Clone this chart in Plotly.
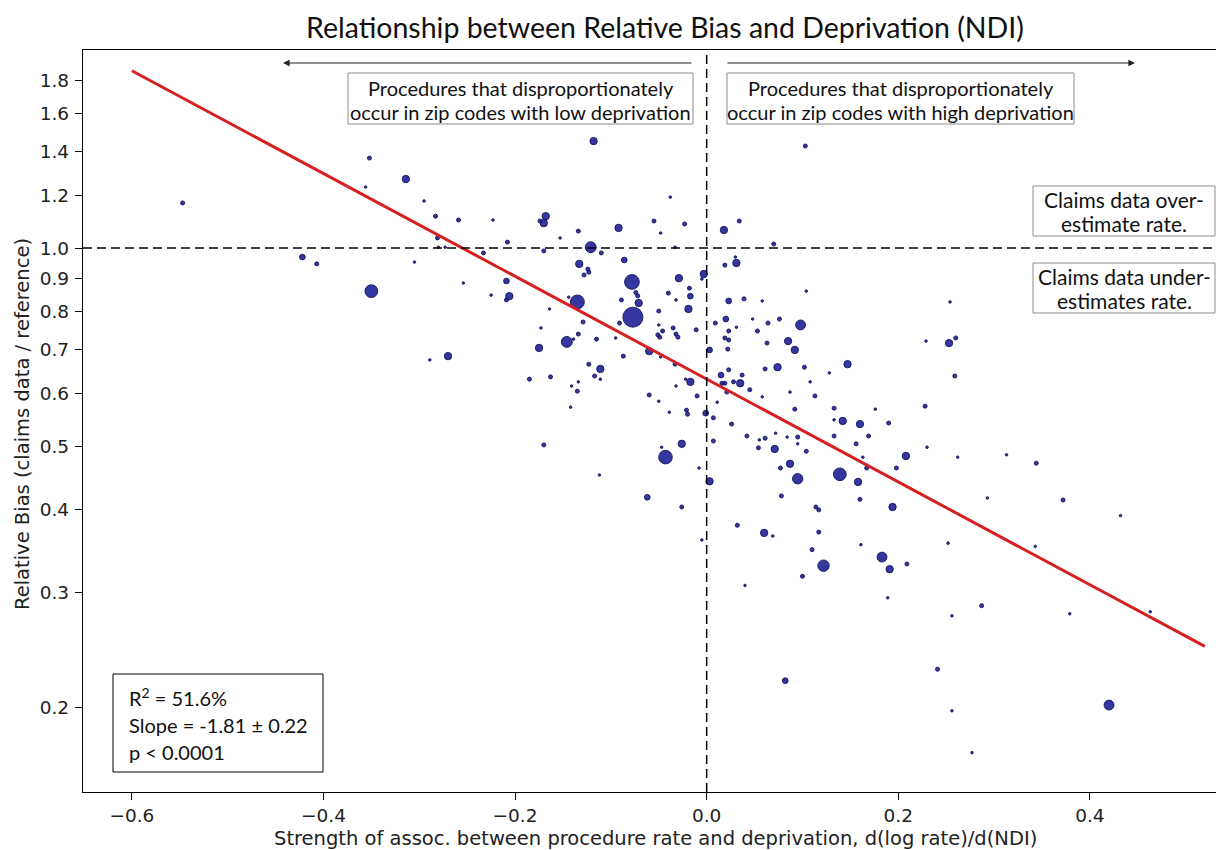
import plotly.graph_objects as go

# ---- data ----
x_assoc = [-0.547,-0.352,-0.356,-0.314,-0.422,-0.407,-0.350,-0.305,-0.295,-0.283,-0.281,-0.280,-0.273,-0.289,-0.270,
           -0.118,0.103,-0.259,-0.223,-0.174,-0.170,-0.168,-0.134,-0.092,-0.055,-0.038,-0.048,-0.023,0.018,0.034,
           -0.208,-0.153,-0.121,-0.170,-0.110,-0.233,-0.033,0.070,-0.086,-0.133,-0.124,-0.123,-0.128,-0.003,-0.005,
           0.030,0.031,0.019,-0.078,-0.029,-0.018,-0.017,-0.040,-0.032,-0.074,-0.072,-0.071,-0.089,-0.135,-0.144,
           -0.019,-0.077,-0.050,0.023,0.039,0.058,0.098,0.020,0.009,0.048,0.064,0.076,0.031,0.023,0.053,
           0.019,0.023,0.085,0.092,0.063,0.022,0.003,-0.050,-0.046,-0.051,-0.049,-0.035,-0.032,-0.030,-0.011,
           -0.091,-0.095,-0.129,-0.134,-0.139,-0.146,-0.115,-0.087,-0.060,-0.048,-0.033,-0.175,-0.164,-0.173,-0.209,
           -0.206,-0.209,-0.225,-0.254,-0.123,-0.111,-0.117,-0.111,-0.185,-0.163,-0.141,-0.135,-0.134,-0.142,-0.060,
           -0.050,-0.017,-0.022,-0.010,-0.032,-0.039,-0.021,-0.020,-0.001,0.007,0.015,0.019,0.016,0.028,0.035,
           0.037,0.023,0.045,0.058,0.061,0.074,0.102,0.108,0.087,0.092,0.113,0.021,0.011,0.026,0.042,
           0.055,0.061,0.054,0.071,0.072,0.084,0.095,0.095,0.104,0.087,0.077,0.095,0.078,-0.026,-0.043,
           -0.047,-0.008,0.007,0.003,-0.170,-0.112,-0.062,-0.026,-0.005,0.032,0.060,0.069,0.040,0.082,0.110,
           0.100,0.117,0.114,0.117,0.133,0.133,0.142,0.160,0.190,0.176,0.228,0.133,0.156,0.169,0.163,
           0.167,0.198,0.208,0.230,0.139,0.158,0.160,0.194,0.122,0.161,0.183,0.191,0.209,0.189,0.262,
           0.313,0.344,0.293,0.372,0.432,0.252,0.343,0.287,0.256,0.379,0.463,0.241,0.420,0.256,0.277,
           0.104,0.254,0.229,0.253,0.260,0.128,0.147,0.259]

rel_bias = [1.171,1.370,1.238,1.273,0.969,0.946,0.860,0.952,1.179,1.118,1.036,1.003,1.003,0.676,0.685,
            1.454,1.429,1.103,1.103,1.099,1.091,1.118,1.061,1.073,1.099,1.195,1.054,1.088,1.065,1.099,
            1.021,1.036,1.003,0.990,0.983,0.983,1.003,1.014,0.959,0.946,0.929,0.919,0.910,0.913,0.897,
            0.969,0.949,0.942,0.888,0.900,0.869,0.845,0.854,0.834,0.856,0.846,0.825,0.834,0.828,0.842,
            0.808,0.785,0.802,0.831,0.837,0.831,0.764,0.780,0.769,0.780,0.769,0.780,0.758,0.748,0.748,
            0.730,0.725,0.722,0.700,0.717,0.702,0.700,0.764,0.748,0.738,0.732,0.756,0.740,0.732,0.751,
            0.769,0.730,0.772,0.740,0.727,0.720,0.727,0.685,0.697,0.683,0.666,0.705,0.808,0.756,0.891,
            0.845,0.834,0.848,0.885,0.666,0.655,0.639,0.632,0.632,0.637,0.617,0.606,0.626,0.573,0.598,
            0.585,0.626,0.632,0.596,0.617,0.563,0.567,0.559,0.561,0.552,0.641,0.623,0.623,0.626,0.623,
            0.641,0.653,0.609,0.594,0.655,0.659,0.659,0.626,0.604,0.569,0.596,0.604,0.583,0.540,0.518,
            0.511,0.514,0.497,0.495,0.523,0.516,0.516,0.504,0.491,0.470,0.463,0.446,0.420,0.504,0.481,
            0.498,0.463,0.509,0.442,0.502,0.452,0.418,0.404,0.360,0.379,0.369,0.365,0.307,0.220,0.348,
            0.317,0.370,0.404,0.400,0.571,0.548,0.546,0.540,0.542,0.569,0.575,0.518,0.504,0.518,0.481,
            0.463,0.463,0.483,0.498,0.453,0.441,0.415,0.404,0.329,0.354,0.339,0.325,0.331,0.294,0.481,
            0.485,0.471,0.417,0.414,0.392,0.356,0.352,0.286,0.276,0.278,0.280,0.229,0.202,0.198,0.171,
            0.860,0.828,0.722,0.717,0.730,0.646,0.666,0.639]

volume = [1.5,1.5,0.6,5,3,1.5,15,0.6,0.6,1.5,1.5,0.6,0.6,0.6,5,
          5,1.5,1.5,0.6,1.5,5,5,1.5,5,1.5,0.6,0.6,1.5,5,1.5,
          1.5,0.6,11,1.5,1.5,1.5,0.6,1.5,3,5,1.5,1.5,1.5,5,0.6,
          0.6,5,1.5,20,5,1.5,3,1.5,0.6,1.5,1.5,5,1.5,18,0.6,
          5,37,1.5,3,1.5,0.6,9,3,1.5,0.6,1.5,1.5,0.6,1.5,1.5,
          1.5,1.5,5,5,1.5,1.5,3,0.6,1.5,1.5,1.5,1.5,1.5,1.5,1.5,
          1.5,0.6,1.5,1.5,0.6,11,1.5,1.5,5,0.6,1.5,5,0.6,0.6,3,
          5,1.5,0.6,0.6,1.5,5,1.5,0.6,1.5,1.5,0.6,1.5,0.6,0.6,1.5,
          0.6,5,0.6,1.5,0.6,0.6,1.5,1.5,3,1.5,3,1.5,1.5,1.5,5,
          1.5,1.5,1.5,0.6,1.5,5,1.5,0.6,0.6,1.5,1.5,1.5,0.6,1.5,1.5,
          0.6,1.5,1.5,5,0.6,0.6,1.5,0.6,1.5,5,1.5,10,1.5,5,17,
          0.6,0.6,1.5,5,1.5,0.6,3,1.5,0.6,1.5,5,0.6,0.6,3,1.5,
          1.5,1.5,1.5,1.5,1.5,0.6,5,5,1.5,0.6,1.5,1.5,1.5,1.5,0.6,
          1.5,1.5,5,0.6,15,5,1.5,5,12,0.6,9,5,1.5,0.6,0.6,
          0.6,1.5,0.6,1.5,0.6,0.6,0.6,1.5,0.6,0.6,0.6,1.5,9,0.6,0.6,
          0.6,0.6,0.6,5,1.5,0.6,5,1.5]

fit_x = [-0.60, 0.52]
fit_y = [1.86, 0.248]

x_tickvals = [-0.6, -0.4, -0.2, 0.0, 0.2, 0.4]
x_ticktext = ["\u22120.6", "\u22120.4", "\u22120.2", "0.0", "0.2", "0.4"]
y_tickvals = [0.2, 0.3, 0.4, 0.5, 0.6, 0.7, 0.8, 0.9, 1.0, 1.2, 1.4, 1.6, 1.8]
y_ticktext = ["0.2", "0.3", "0.4", "0.5", "0.6", "0.7", "0.8", "0.9", "1.0", "1.2", "1.4", "1.6", "1.8"]

title_text = "Relationship between Relative Bias and Deprivation (NDI)"
x_title = "Strength of assoc. between procedure rate and deprivation, d(log rate)/d(NDI)"
y_title = "Relative Bias (claims data / reference)"
low_lines = ["Procedures that disproportionately", "occur in zip codes with low deprivation"]
high_lines = ["Procedures that disproportionately", "occur in zip codes with high deprivation"]
over_lines = ["Claims data over-", "estimate rate."]
under_lines = ["Claims data under-", "estimates rate."]
stats_lines = ["R<sup>2</sup> = 51.6%", "Slope = -1.81 \u00b1 0.22", "p &lt; 0.0001"]

# ---- layout geometry (page pixels; the page body has an 8px margin) ----
OFF = 8
PAGE_W, PAGE_H = 1224, 850
PL, PT, PB = 83, 50, 792          # plot-area left / top / bottom in page pixels
W, H = PAGE_W - OFF, PAGE_H - OFF
ML, MT, MB, MR = PL - OFF, PT - OFF, PAGE_H - PB, 0
PW, PH = W - ML - MR, H - MT - MB


def px(xp):
    return (xp - PL) / PW


def py(yp):
    return (PB - yp) / PH


calibri_like = "Lato, Carlito, Calibri, sans-serif"
dv = "DejaVu Sans, sans-serif"

fig = go.Figure()
fig.add_trace(go.Scatter(
    x=x_assoc, y=rel_bias, mode="markers",
    marker=dict(size=volume, sizemode="area", sizeref=0.184, opacity=1,
                color="rgba(10,10,140,0.82)",
                line=dict(color="#15155e", width=0.9)),
    showlegend=False, hoverinfo="x+y"))
fig.add_trace(go.Scatter(
    x=fit_x, y=fit_y, mode="lines",
    line=dict(color="#d42020", width=3), showlegend=False))

box_gray = dict(color="#8c8c8c", width=1)
shapes = [
    dict(type="line", xref="paper", yref="y", x0=0, x1=1, y0=1.0, y1=1.0,
         line=dict(color="black", width=1.5, dash="9px,5px")),
    dict(type="line", xref="x", yref="paper", x0=0, x1=0, y0=0, y1=1,
         line=dict(color="black", width=1.5, dash="9px,5px")),
    dict(type="rect", xref="paper", yref="paper", x0=px(348), x1=px(693), y0=py(124), y1=py(73),
         line=box_gray, fillcolor="white", layer="above"),
    dict(type="rect", xref="paper", yref="paper", x0=px(727), x1=px(1074), y0=py(124), y1=py(73),
         line=box_gray, fillcolor="white", layer="above"),
    dict(type="rect", xref="paper", yref="paper", x0=px(1033), x1=px(1215), y0=py(236), y1=py(186),
         line=box_gray, fillcolor="white", layer="above"),
    dict(type="rect", xref="paper", yref="paper", x0=px(1033), x1=px(1215), y0=py(313), y1=py(263),
         line=box_gray, fillcolor="white", layer="above"),
    dict(type="rect", xref="paper", yref="paper", x0=px(113), x1=px(323), y0=py(772), y1=py(674),
         line=dict(color="black", width=1), fillcolor="white", layer="above"),
    dict(type="line", xref="paper", yref="paper", x0=px(1222), x1=px(1222), y0=py(378), y1=py(115),
         line=dict(color="#8a8a8a", width=1)),
]

box_font = dict(family=calibri_like, size=20, color="#111")


def text_ann(txt, xp, yp, font, xanchor="center"):
    return dict(text=txt, xref="paper", yref="paper", x=px(xp), y=py(yp),
                xanchor=xanchor, yanchor="middle", showarrow=False, font=font)


annotations = [
    text_ann(title_text, 665, 27, dict(family=calibri_like, size=28.5, color="#111")),
    text_ann(x_title, 655, 838, dict(family=dv, size=19.5, color="#222")),
    dict(text=y_title, xref="paper", yref="paper", x=px(22), y=py(424),
         xanchor="center", yanchor="middle", showarrow=False, textangle=-90,
         font=dict(family=dv, size=19.5, color="#222")),
]
for i, t in enumerate(low_lines):
    annotations.append(text_ann(t, 520.5, 88 + 24 * i, box_font))
for i, t in enumerate(high_lines):
    annotations.append(text_ann(t, 900.5, 88 + 24 * i, box_font))
for i, t in enumerate(over_lines):
    annotations.append(text_ann(t, 1124, 199 + 24 * i, dict(box_font, size=21)))
for i, t in enumerate(under_lines):
    annotations.append(text_ann(t, 1124, 276 + 24 * i, dict(box_font, size=21)))
for i, t in enumerate(stats_lines):
    annotations.append(text_ann(t, 127, 697 + 27.5 * i, box_font, xanchor="left"))

annotations += [
    dict(text="", xref="paper", yref="paper", x=px(283), y=py(63), ax=410, ay=0,
         showarrow=True, arrowhead=2, arrowsize=1.1, arrowwidth=1.2, arrowcolor="#222"),
    dict(text="", xref="paper", yref="paper", x=px(1135), y=py(63), ax=-409, ay=0,
         showarrow=True, arrowhead=2, arrowsize=1.1, arrowwidth=1.2, arrowcolor="#222"),
    dict(text="", xref="paper", yref="paper", x=px(1222), y=py(115), ax=0, ay=40,
         showarrow=True, arrowhead=2, arrowsize=1, arrowwidth=1, arrowcolor="#8a8a8a"),
    dict(text="", xref="paper", yref="paper", x=px(1222), y=py(378), ax=0, ay=-40,
         showarrow=True, arrowhead=2, arrowsize=1, arrowwidth=1, arrowcolor="#8a8a8a"),
]

axis_common = dict(showgrid=False, zeroline=False, showline=True,
                   linecolor="black", linewidth=1.3, ticks="outside", ticklen=7, tickwidth=1.3,
                   tickcolor="black", tickfont=dict(family=dv, size=18.5, color="#222"))

fig.update_layout(
    width=W, height=H, autosize=False,
    margin=dict(l=ML, r=MR, t=MT, b=MB, pad=0),
    paper_bgcolor="white", plot_bgcolor="white",
    shapes=shapes, annotations=annotations,
    xaxis=dict(range=[-0.651, 0.540], tickvals=x_tickvals, ticktext=x_ticktext, mirror=True,
               **axis_common),
    yaxis=dict(type="log", range=[-0.8268, 0.3010], tickvals=y_tickvals, ticktext=y_ticktext,
               mirror=False, ticklabelstandoff=2, **axis_common),
)

fig.write_html("out.html")
